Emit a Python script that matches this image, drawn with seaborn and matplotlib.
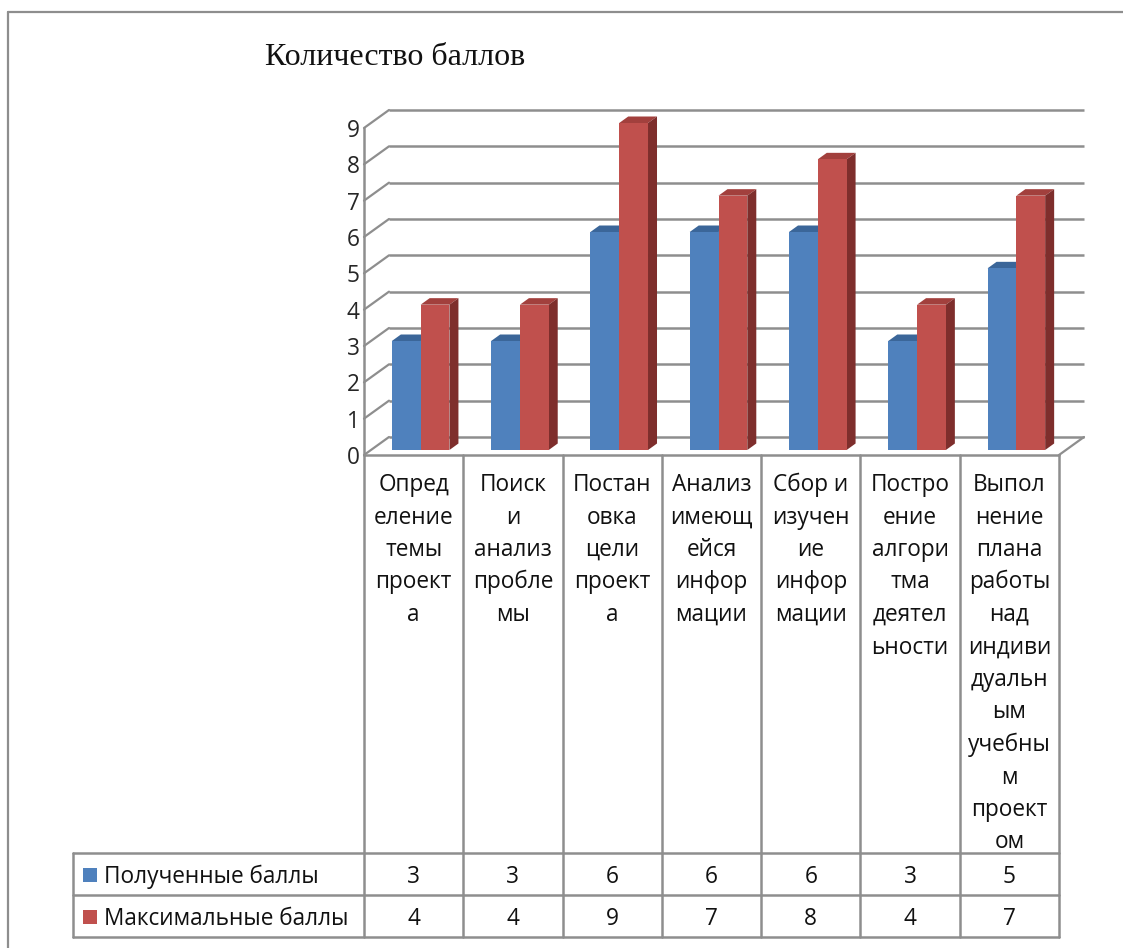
import matplotlib
matplotlib.use("Agg")
import matplotlib.pyplot as plt
import numpy as np
import pandas as pd
import seaborn as sns
from matplotlib.transforms import Affine2D, IdentityTransform
from matplotlib.patches import Polygon, Rectangle

# ---- data ----
categories = [
    "Определение темы проекта",
    "Поиск и анализ проблемы",
    "Постановка цели проекта",
    "Анализ имеющейся информации",
    "Сбор и изучение информации",
    "Построение алгоритма деятельности",
    "Выполнение плана работы над индивидуальным учебным проектом",
]
category_lines = [
    ["Опред", "еление", "темы", "проект", "а"],
    ["Поиск", "и", "анализ", "пробле", "мы"],
    ["Постан", "овка", "цели", "проект", "а"],
    ["Анализ", "имеющ", "ейся", "инфор", "мации"],
    ["Сбор и", "изучен", "ие", "инфор", "мации"],
    ["Постро", "ение", "алгори", "тма", "деятел", "ьности"],
    ["Выпол", "нение", "плана", "работы", "над", "индиви", "дуальн",
     "ым", "учебны", "м", "проект", "ом"],
]
series = ["Полученные баллы", "Максимальные баллы"]
received = [3, 3, 6, 6, 6, 3, 5]
maximum = [4, 4, 9, 7, 8, 4, 7]
y_ticks = list(range(10))
title = "Количество баллов"

# ---- style ----
BLUE, BLUE_TOP, BLUE_SIDE = "#4F81BD", "#3B6699", "#2F5480"
RED, RED_TOP, RED_SIDE = "#C0504D", "#A2403D", "#7E2E2C"
GRID = "#8e8e8e"
TEXT_FONT = ["Open Sans", "DejaVu Sans"]
FS = 16.3

W, H = 1123, 948
sns.set_theme(style="white")
plt.rcParams["font.family"] = TEXT_FONT
plt.rcParams["text.color"] = "#111111"

fig = plt.figure(figsize=(W / 100, H / 100), dpi=100)
fig.patch.set_facecolor("white")

# full-figure canvas in pixel units (y grows downward)
canvas = fig.add_axes([0, 0, 1, 1], zorder=0)
canvas.set_xlim(0, W)
canvas.set_ylim(H, 0)
canvas.axis("off")

# front plane of the 3-D plot
left_px, right_px, top_px, base_px = 364, 1059, 128, 455
ax = fig.add_axes([left_px / W, 1 - base_px / H,
                   (right_px - left_px) / W, (base_px - top_px) / H], zorder=1)
ax.patch.set_visible(False)

df = pd.DataFrame({
    "category": categories * 2,
    "series": [series[0]] * len(categories) + [series[1]] * len(categories),
    "value": received + maximum,
})
sns.barplot(data=df, x="category", y="value", hue="series",
            order=categories, hue_order=series, palette=[BLUE, RED],
            saturation=1, width=0.58, gap=0, errorbar=None, legend=False,
            linewidth=0, ax=ax, zorder=3)

ax.set_xlim(-0.5, len(categories) - 0.5)
ax.set_ylim(0, 9)
ax.set_xlabel("")
ax.set_ylabel("")
ax.set_xticks([])
ax.set_yticks(y_ticks)
ax.set_yticklabels([str(t) for t in y_ticks], fontsize=FS)
ax.tick_params(axis="y", length=0, pad=3)
for s in ax.spines.values():
    s.set_visible(False)

# depth offsets in pixels
WALL = (25, 18)
BAR_FRONT = (7, 5)
BAR_DEPTH = (9, 6.5)

back = ax.transData + Affine2D().translate(*WALL)
x_lo, x_hi = ax.get_xlim()

# back wall gridlines and the left wall diagonals
for v in y_ticks:
    ax.plot([x_lo, x_hi], [v, v], transform=back, color=GRID, lw=1.8,
            clip_on=False, zorder=1, solid_capstyle="butt")
    p0 = ax.transData.transform((x_lo, v))
    p1 = p0 + np.array(WALL)
    ax.plot([p0[0], p1[0]], [p0[1], p1[1]], transform=IdentityTransform(),
            color=GRID, lw=1.6, clip_on=False, zorder=1)

# floor: front edge and right diagonal
ax.plot([x_lo, x_hi], [0, 0], color=GRID, lw=1.8, clip_on=False, zorder=1)
q0 = ax.transData.transform((x_hi, 0))
q1 = q0 + np.array(WALL)
ax.plot([q0[0], q1[0]], [q0[1], q1[1]], transform=IdentityTransform(),
        color=GRID, lw=1.6, clip_on=False, zorder=1)
ax.plot([x_lo, x_lo], [0, 9], color=GRID, lw=1.8, clip_on=False, zorder=1)

# extrude the seaborn bars into boxes
front = ax.transData + Affine2D().translate(*BAR_FRONT)
n = len(categories)
faces = [(BLUE_TOP, BLUE_SIDE)] * n + [(RED_TOP, RED_SIDE)] * n
bars = [p for p in ax.patches if isinstance(p, Rectangle)][: 2 * n]
d = np.array(BAR_DEPTH)
for bar, (top_c, side_c) in zip(bars, faces):
    bar.set_transform(front)
    bar.set_clip_on(False)
    x0, w, h = bar.get_x(), bar.get_width(), bar.get_height()
    bl, br, tr, tl = front.transform([(x0, 0), (x0 + w, 0), (x0 + w, h), (x0, h)])
    ax.add_patch(Polygon([tl, tr, tr + d, tl + d], closed=True,
                         transform=IdentityTransform(), facecolor=top_c,
                         edgecolor="none", clip_on=False, zorder=2))
    ax.add_patch(Polygon([br, tr, tr + d, br + d], closed=True,
                         transform=IdentityTransform(), facecolor=side_c,
                         edgecolor="none", clip_on=False, zorder=2))
    bar.set_zorder(3)

# ---- data table ----
col_x = [ax.transData.transform((i - 0.5, 0))[0] for i in range(n + 1)]
table_left = 73
row_top, row_mid, row_bot = 853, 895, 937
LW = 1.8
for x in col_x:
    canvas.plot([x, x], [base_px, row_bot], color=GRID, lw=LW)
canvas.plot([table_left, table_left], [row_top, row_bot], color=GRID, lw=LW)
for y in (row_top, row_mid, row_bot):
    canvas.plot([table_left, col_x[-1]], [y, y], color=GRID, lw=LW)

for i, lines in enumerate(category_lines):
    cx = (col_x[i] + col_x[i + 1]) / 2
    for j, line in enumerate(lines):
        canvas.text(cx, 491 + 32.5 * j, line, ha="center", va="baseline",
                    fontsize=FS)

for r, (name, vals, color, base) in enumerate([
        (series[0], received, BLUE, 883), (series[1], maximum, RED, 925)]):
    canvas.add_patch(Rectangle((83, base - 15), 14, 14, facecolor=color,
                               edgecolor="none"))
    canvas.text(104, base, name, ha="left", va="baseline", fontsize=FS)
    for i, v in enumerate(vals):
        cx = (col_x[i] + col_x[i + 1]) / 2
        canvas.text(cx, base, str(v), ha="center", va="baseline", fontsize=FS)

# ---- title and chart frame ----
canvas.text(265, 65, title, ha="left", va="baseline", fontsize=23,
            family=["Liberation Serif", "DejaVu Serif"])
canvas.plot([8, 8], [12, H], color=GRID, lw=1.6)
canvas.plot([8, W], [12, 12], color=GRID, lw=1.6)

fig.savefig("out.png", dpi=100)
